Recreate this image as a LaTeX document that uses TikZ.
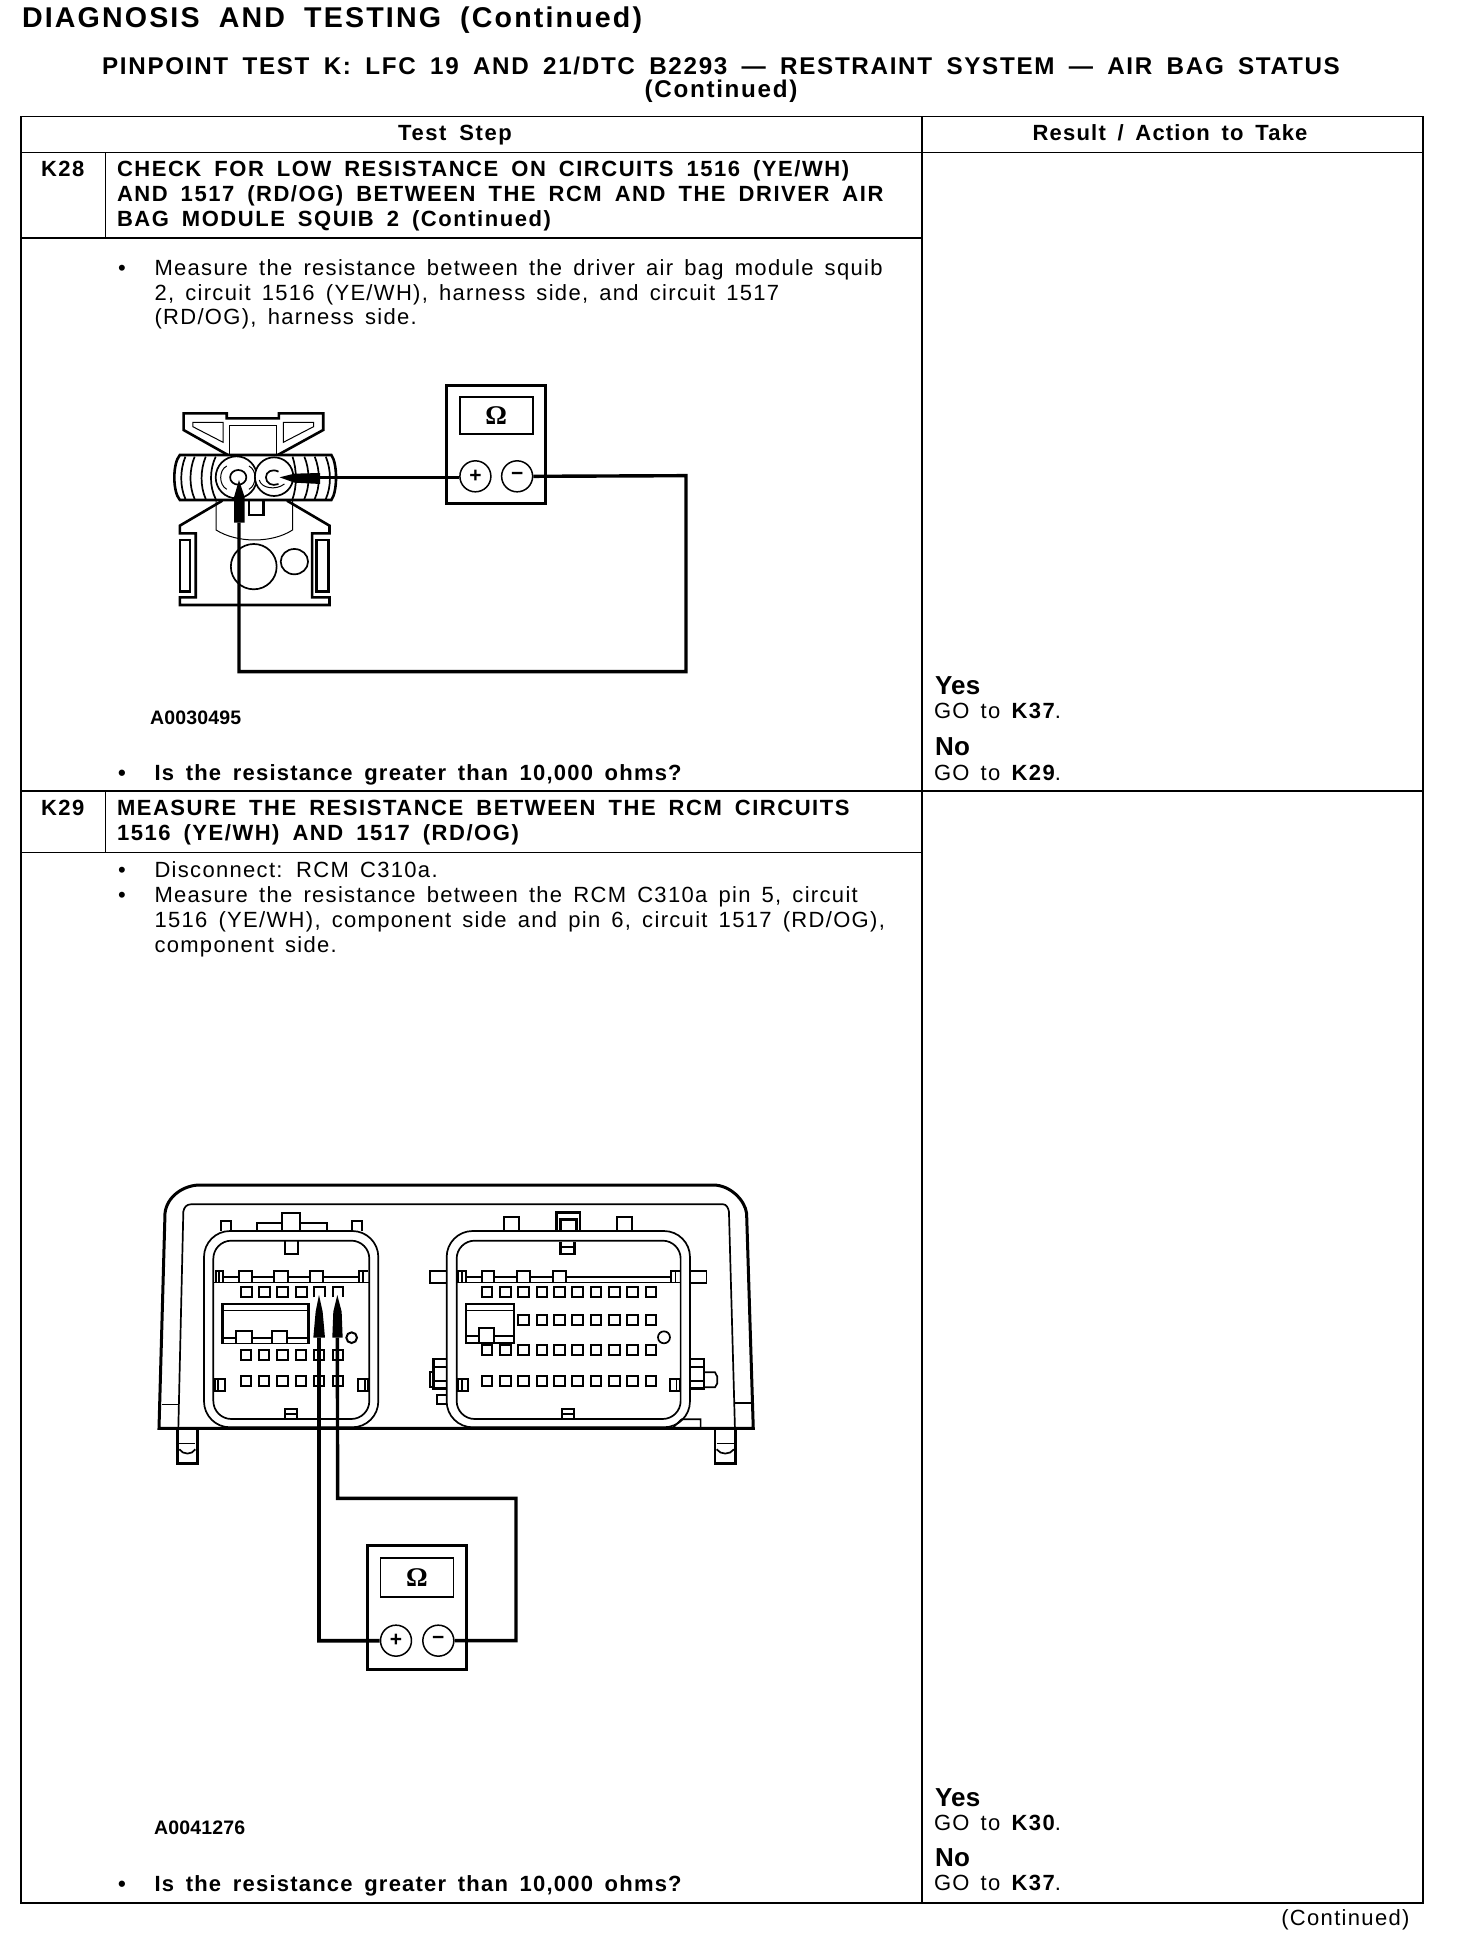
\documentclass[tikz,border=0pt]{standalone}
\usepackage{fontspec}
\setmainfont{Liberation Sans}
\newfontfamily\omegafont{Liberation Serif Bold}
\newfontfamily\rgl{Liberation Sans}[LetterSpace=6,WordSpace=1.5]
\newfontfamily\bld{Liberation Sans Bold}[LetterSpace=7,WordSpace=1.6]
\newfontfamily\qfn{Liberation Sans Bold}[LetterSpace=5.5,WordSpace=1.6]
\newfontfamily\hfa{Liberation Sans Bold}[LetterSpace=7.5,WordSpace=1.9]
\newfontfamily\hfb{Liberation Sans Bold}[LetterSpace=7,WordSpace=1.7]
\newfontfamily\pln{Liberation Sans Bold}[LetterSpace=1]
\tikzset{
 tx/.style={anchor=base west,inner sep=0pt,outer sep=0pt},
 body/.style={tx,font=\rgl\fontsize{22}{25}\selectfont},
 bodyb/.style={tx,font=\bld\fontsize{22}{25}\selectfont},
 qst/.style={tx,font=\qfn\fontsize{22}{25}\selectfont},
 yes/.style={tx,font=\pln\fontsize{26}{26}\selectfont},
 fig/.style={tx,font=\pln\fontsize{19.5}{22}\selectfont},
 rule/.style={line width=1.7pt,line cap=rect},
 wire/.style={line width=3.4pt,line join=miter},
 thk/.style={line width=2.6pt,line join=miter},
 med/.style={line width=1.7pt,line join=miter},
 thn/.style={line width=1pt,line join=miter},
 pin/.style={line width=2pt},
 meter/.style={draw,line width=3pt,inner sep=0pt,minimum width=#1},
 disp/.style={draw,line width=1.5pt,inner sep=0pt,font=\omegafont\fontsize{27}{27}\selectfont},
 term/.style={draw,circle,line width=1.5pt,inner sep=0pt,minimum size=31pt,font=\pln\fontsize{21}{21}\selectfont},
 probe/.style={fill=black,draw=none},
}
\begin{document}
\begin{tikzpicture}[x=1pt,y=-1pt]
\useasboundingbox[fill=white] (0,0) rectangle (1456,1948);
% ---------- headings
\node[tx,font=\hfa\fontsize{28.6}{30}\selectfont] (h1) at (22,27.5) {DIAGNOSIS AND TESTING (Continued)};
\node[tx,anchor=base,font=\hfb\fontsize{24.2}{30}\selectfont] (h2) at (721,75) {PINPOINT TEST K: LFC 19 AND 21/DTC B2293 — RESTRAINT SYSTEM — AIR BAG STATUS};
\node[tx,anchor=base,font=\hfb\fontsize{24.2}{30}\selectfont] (h3) at (721,98) {(Continued)};
% ---------- table
\draw[rule] (21,116.5) rectangle (1423,1903);
\draw[rule] (21,152.5) -- (1423,152.5);
\draw[rule] (922,116.5) -- (922,1903);
\draw[rule] (105.5,152.5) -- (105.5,238);
\draw[rule] (21,238) -- (922,238);
\draw[rule] (21,791) -- (1423,791);
\draw[rule] (105.5,791) -- (105.5,852.5);
\draw[rule] (21,852.5) -- (922,852.5);
\node[bodyb,anchor=base] (th1) at (455,141) {Test Step};
\node[qst,anchor=base] (th2) at (1170,141) {Result / Action to Take};
% ---------- K28 text
\node[bodyb] (k28) at (41,176.7) {K28};
\node[bodyb] (k28a) at (117,176.7) {CHECK FOR LOW RESISTANCE ON CIRCUITS 1516 (YE/WH)};
\node[bodyb] (k28b) at (117,201.7) {AND 1517 (RD/OG) BETWEEN THE RCM AND THE DRIVER AIR};
\node[bodyb] (k28c) at (117,226.7) {BAG MODULE SQUIB 2 (Continued)};
\node[body] (b1) at (118,275) {•};
\node[body] (m1) at (154.5,275) {Measure the resistance between the driver air bag module squib};
\node[body] (m2) at (154.5,300) {2, circuit 1516 (YE/WH), harness side, and circuit 1517};
\node[body] (m3) at (154.5,324.5) {(RD/OG), harness side.};
\node[fig] (f1) at (150,724) {A0030495};
\node[qst] (b2) at (118,780) {•};
\node[qst] (q1) at (154.5,780) {Is the resistance greater than 10,000 ohms?};
\node[yes] (y1) at (935,694) {Yes};
\node[body] (g1) at (934,718) {GO to \bld K37\rgl .};
\node[yes] (n1) at (935,755) {No};
\node[body] (g2) at (934,780) {GO to \bld K29\rgl .};
% ---------- K29 text
\node[bodyb] (k29) at (41,815.5) {K29};
\node[bodyb] (k29a) at (117,815.5) {MEASURE THE RESISTANCE BETWEEN THE RCM CIRCUITS};
\node[bodyb] (k29b) at (117,840.5) {1516 (YE/WH) AND 1517 (RD/OG)};
\node[body] (b3) at (118,877.5) {•};
\node[body] (d1) at (154.5,877.5) {Disconnect: RCM C310a.};
\node[body] (b4) at (118,902.5) {•};
\node[body] (d2) at (154.5,902.5) {Measure the resistance between the RCM C310a pin 5, circuit};
\node[body] (d3) at (154.5,927.5) {1516 (YE/WH), component side and pin 6, circuit 1517 (RD/OG),};
\node[body] (d4) at (154.5,952.5) {component side.};
\node[fig] (f2) at (154,1834) {A0041276};
\node[qst] (b5) at (118,1891) {•};
\node[qst] (q2) at (154.5,1891) {Is the resistance greater than 10,000 ohms?};
\node[yes] (y2) at (935,1806) {Yes};
\node[body] (g3) at (934,1830) {GO to \bld K30\rgl .};
\node[yes] (n2) at (935,1866) {No};
\node[body] (g4) at (934,1890.5) {GO to \bld K37\rgl .};
\node[body,anchor=base east] (cont) at (1409.5,1925.5) {(Continued)};
% ---------- air bag connector (figure 1)
\begin{scope}[shift={(130,360)},x=0.3694pt,y=-0.3333pt]
 % top clip
 \draw[thk] (265,285) -- (145,210) -- (145,160) -- (262,160) -- (262,175) -- (403,175) -- (403,160) -- (523,160) -- (523,210) -- (400,285);
 \draw[thn] (170,187) -- (252,187) -- (252,247) -- (170,200) -- cycle;
 \draw[thn] (415,187) -- (497,187) -- (497,200) -- (415,247) -- cycle;
 \draw[thn] (270,285) -- (270,198) -- (397,198) -- (397,285);
 % barrel
 \draw[thk] (135,285) -- (545,285) .. controls (562,310) and (562,395) .. (545,420) -- (135,420) .. controls (115,395) and (115,310) .. (135,285) -- cycle;
 \foreach \a/\b in {150/135,175/160,205/190,232/215}
  \draw[med] (\a,290) .. controls (\b,330) and (\b,380) .. (\a,417);
 \foreach \a/\b in {440/452,472/487,500/515,530/545}
  \draw[med] (\a,290) .. controls (\b,330) and (\b,380) .. (\a,417);
 \draw[med,fill=white] (288,352) circle [x radius=56,y radius=63];
 \draw[med,fill=white] (390,350) circle [x radius=52,y radius=58];
 \draw[thn] (262,388) .. controls (240,375) and (240,330) .. (262,318);
 \draw[thn] (322,388) .. controls (344,375) and (344,330) .. (322,318);
 \draw[med] (293,352) circle [x radius=22,y radius=22];
 \draw[med] (402,335) .. controls (385,325) and (368,335) .. (368,352) .. controls (368,370) and (385,380) .. (402,372);
 \draw[thn] (350,360) .. controls (355,385) and (395,392) .. (418,372);
 % lower body
 \draw[thk] (250,422) -- (135,497) -- (135,520) -- (178,520) -- (178,712) -- (135,712) -- (135,735) -- (540,735) -- (540,712) -- (493,712) -- (493,520) -- (540,520) -- (540,497) -- (425,422);
 \draw[thk] (135,540) rectangle (162,695);
 \draw[thk] (505,540) rectangle (538,695);
 \draw[thn] (233,422) -- (233,510) .. controls (290,550) and (385,550) .. (440,510) -- (440,422);
 \draw[thk] (322,422) -- (322,465) -- (362,465) -- (362,422);
 \draw[med] (335,620) circle [x radius=62,y radius=68];
 \draw[med] (445,605) circle [x radius=37,y radius=38];
 % probes
 \coordinate (pa) at (295,488);
 \coordinate (pb) at (515,353);
 \coordinate (cA) at (1505,347);
 \coordinate (cB) at (1505,935);
 \coordinate (cC) at (295,935);
 \coordinate (mtc) at (991,252.5);
 \coordinate (dsc) at (991.5,166);
 \coordinate (tpc) at (935,349);
 \coordinate (tmc) at (1048,349);
 \fill[probe] (295,360) -- (310,410) -- (310,488) -- (282,488) -- (282,410) -- cycle;
 \fill[probe] (405,352) -- (445,341) -- (515,339) -- (515,372) -- (445,368) -- cycle;
\end{scope}
% meter 1
\node[meter=99pt,minimum height=118pt] (mt1) at (mtc) {};
\node[disp,minimum width=73pt,minimum height=37pt] (ds1) at (dsc) {Ω};
\node[term] (tp1) at (tpc) {+};
\node[term] (tm1) at (tmc) {−};
\draw[wire] (pb) -- (pb -| tp1.west);
\draw[wire] (tm1.east) -- (cA) -- (cB) -- (cC) -- (pa);
% ---------- module (figure 2)
\begin{scope}[shift={(150,1170)},x=0.3333pt,y=-0.3333pt]
 \draw[line width=3pt] (27,775) -- (45,130) .. controls (50,80) and (100,45) .. (150,45) -- (1690,45) .. controls (1740,45) and (1785,90) .. (1790,130) -- (1810,775) -- cycle;
 \draw[med] (85,775) -- (100,125) .. controls (102,112) and (110,103) .. (122,103) -- (1720,103) .. controls (1728,103) and (1735,112) .. (1737,125) -- (1755,775);
 \draw[thn] (35,703) -- (85,703);
 \draw[med] (1755,700) -- (1805,700);
 % feet
 \draw[thk] (82,778) -- (82,880) -- (142,880) -- (142,778);
 \draw[thn] (88,820) -- (136,820);
 \draw[med] (88,838) .. controls (100,855) and (125,855) .. (136,838);
 \draw[thk] (1695,778) -- (1695,880) -- (1757,880) -- (1757,778);
 \draw[thn] (1700,820) -- (1752,820);
 \draw[med] (1700,838) .. controls (1712,855) and (1740,855) .. (1752,838);
\end{scope}
% left connector
\begin{scope}[shift={(150,1170)},x=0.3333pt,y=-0.3333pt]
 \draw[med,rounded corners=26pt] (162,183) rectangle (685,772);
 \draw[med,rounded corners=18pt] (190,212) rectangle (658,747);
 \draw[med] (212,183) -- (212,152) -- (242,152) -- (242,183);
 \draw[med] (605,183) -- (605,152) -- (637,152) -- (637,183);
 \draw[med] (320,183) -- (320,158) -- (395,158) -- (395,128) -- (450,128) -- (450,158) -- (530,158) -- (530,183);
 \draw[med] (395,158) -- (395,183) (450,158) -- (450,183);
 \draw[med] (405,212) -- (405,252) -- (445,252) -- (445,212);
 \draw[thn] (190,337) -- (658,337);
 \draw[med] (220,322) -- (267,322) -- (267,302) -- (307,302) -- (307,322) -- (373,322) -- (373,302) -- (413,302) -- (413,322) -- (480,322) -- (480,302) -- (518,302) -- (518,322) -- (625,322);
 \draw[med] (267,322) -- (267,337) (307,322) -- (307,337) (373,322) -- (373,337) (413,322) -- (413,337) (480,322) -- (480,337) (518,322) -- (518,337);
 \draw[med] (197,337) -- (197,302) -- (220,302) -- (220,337) (208,302) -- (208,337);
 \draw[med] (628,337) -- (628,302) -- (655,302) (640,302) -- (640,337);
 \foreach \x in {272,327,382,437} \draw[pin] (\x,352) rectangle ++(33,30);
 \foreach \x in {492,548} \draw[pin] (\x,382) -- (\x,352) -- ++(32,0) -- ++(0,30);
 \foreach \y in {540,617} \foreach \x in {272,327,382,437,492,548} \draw[pin] (\x,\y) rectangle ++(31,30);
 \draw[thk] (218,522) -- (218,402) -- (475,402) -- (475,522);
 \draw[thn] (222,420) -- (472,420);
 \draw[med] (218,505) -- (258,505) -- (258,483) -- (305,483) -- (305,522) (258,505) -- (258,522) (305,505) -- (365,505) -- (365,483) -- (412,483) -- (412,522) (365,505) -- (365,522) (412,505) -- (475,505);
 \draw[thn] (218,522) -- (475,522);
 \draw[pin] (605,503) circle [radius=16];
 \draw[med] (195,627) rectangle (225,663) (205,627) -- (205,663);
 \draw[med] (625,627) rectangle (655,663) (645,627) -- (645,663);
 \draw[med] (405,745) -- (405,717) -- (440,717) -- (440,745) (405,732) -- (440,732);
 % probes
 \coordinate (qa) at (507,503);
 \coordinate (qb) at (562,503);
 \fill[probe] (507,375) -- (518,425) -- (525,503) -- (490,503) -- (497,425) -- cycle;
 \fill[probe] (562,375) -- (575,425) -- (578,503) -- (547,503) -- (550,425) -- cycle;
\end{scope}
% right connector
\begin{scope}[shift={(430,1170)},x=0.3333pt,y=-0.3333pt]
 \draw[med,rounded corners=26pt] (50,183) rectangle (780,772);
 \draw[med,rounded corners=18pt] (80,212) rectangle (752,747);
 \draw[med] (222,183) -- (222,140) -- (268,140) -- (268,183);
 \draw[med] (562,183) -- (562,140) -- (607,140) -- (607,183);
 \draw[thk] (380,183) -- (380,128) -- (450,128) -- (450,183);
 \draw[thk] (392,183) -- (392,148) -- (440,148) -- (440,183);
 \draw[thk] (392,215) -- (392,252) -- (433,252) -- (433,215);
 \draw[med] (392,232) -- (433,232);
 \draw[thn] (80,337) -- (752,337);
 \draw[med] (110,322) -- (155,322) -- (155,302) -- (193,302) -- (193,322) -- (262,322) -- (262,302) -- (300,302) -- (300,322) -- (368,322) -- (368,302) -- (407,302) -- (407,322) -- (722,322);
 \draw[med] (155,322) -- (155,337) (193,322) -- (193,337) (262,322) -- (262,337) (300,322) -- (300,337) (368,322) -- (368,337) (407,322) -- (407,337);
 \draw[med] (85,337) -- (85,302) -- (108,302) -- (108,337) (96,302) -- (96,337);
 \draw[med] (722,337) -- (722,302) -- (750,302) (737,302) -- (737,337);
 \draw[med] (50,303) -- (0,303) -- (0,338) -- (50,338);
 \draw[med] (782,303) -- (830,303) -- (830,338) -- (782,338);
 \foreach \x in {155,210,265,320,373,427,482,537,592,647} {
   \draw[pin] (\x,351) rectangle ++(32,30);
   \draw[pin] (\x,525) rectangle ++(32,31);
   \draw[pin] (\x,617) rectangle ++(32,31);
 }
 \foreach \x in {265,320,373,427,482,537,592,647} \draw[pin] (\x,434) rectangle ++(32,31);
 \draw[med] (108,402) rectangle (252,518);
 \draw[thn] (108,422) -- (252,422);
 \draw[med] (108,497) -- (147,497) -- (147,475) -- (193,475) -- (193,518) (147,497) -- (147,518) (193,497) -- (252,497);
 \draw[med] (702,502) circle [radius=18];
 % side lugs
 \draw[thk] (50,567) -- (10,567) -- (10,655) -- (50,655);
 \draw[med] (10,590) -- (50,590) (10,632) -- (50,632);
 \draw[med] (10,607) -- (0,607) -- (0,652) -- (10,652);
 \draw[med] (50,675) -- (20,675) -- (20,703) -- (50,703);
 \draw[thk] (782,567) -- (822,567) -- (822,655) -- (782,655);
 \draw[med] (782,590) -- (822,590) (782,632) -- (822,632);
 \draw[med] (822,607) -- (855,607) -- (862,620) -- (862,640) -- (855,652) -- (822,652);
 \draw[med] (85,627) rectangle (115,663) (95,627) -- (95,663);
 \draw[med] (720,627) rectangle (750,663) (740,627) -- (740,663);
 \draw[med] (395,745) -- (395,717) -- (433,717) -- (433,745) (395,732) -- (433,732);
 \draw[med] (730,772) -- (755,748) -- (812,748) -- (812,772);
\end{scope}
% meter 2
\begin{scope}[shift={(300,1480)},x=0.3333pt,y=-0.3333pt]
 \coordinate (mc) at (352,383.5);
 \coordinate (dc) at (351,292);
 \coordinate (cp) at (288,482);
 \coordinate (cm) at (415,482);
 \coordinate (rA) at (113,55);
 \coordinate (rB) at (648,55);
 \coordinate (rC) at (648,482);
 \coordinate (lA) at (57,482);
\end{scope}
\node[meter=99pt,minimum height=124pt] (mt2) at (mc) {};
\node[disp,minimum width=73pt,minimum height=39pt] (ds2) at (dc) {Ω};
\node[term] (tp2) at (cp) {+};
\node[term] (tm2) at (cm) {−};
\draw[line width=3.8pt,line join=miter] (qa) -- (lA) -- (tp2.west);
\draw[wire] (qb) -- (rA) -- (rB) -- (rC) -- (tm2.east);
\end{tikzpicture}
\end{document}
